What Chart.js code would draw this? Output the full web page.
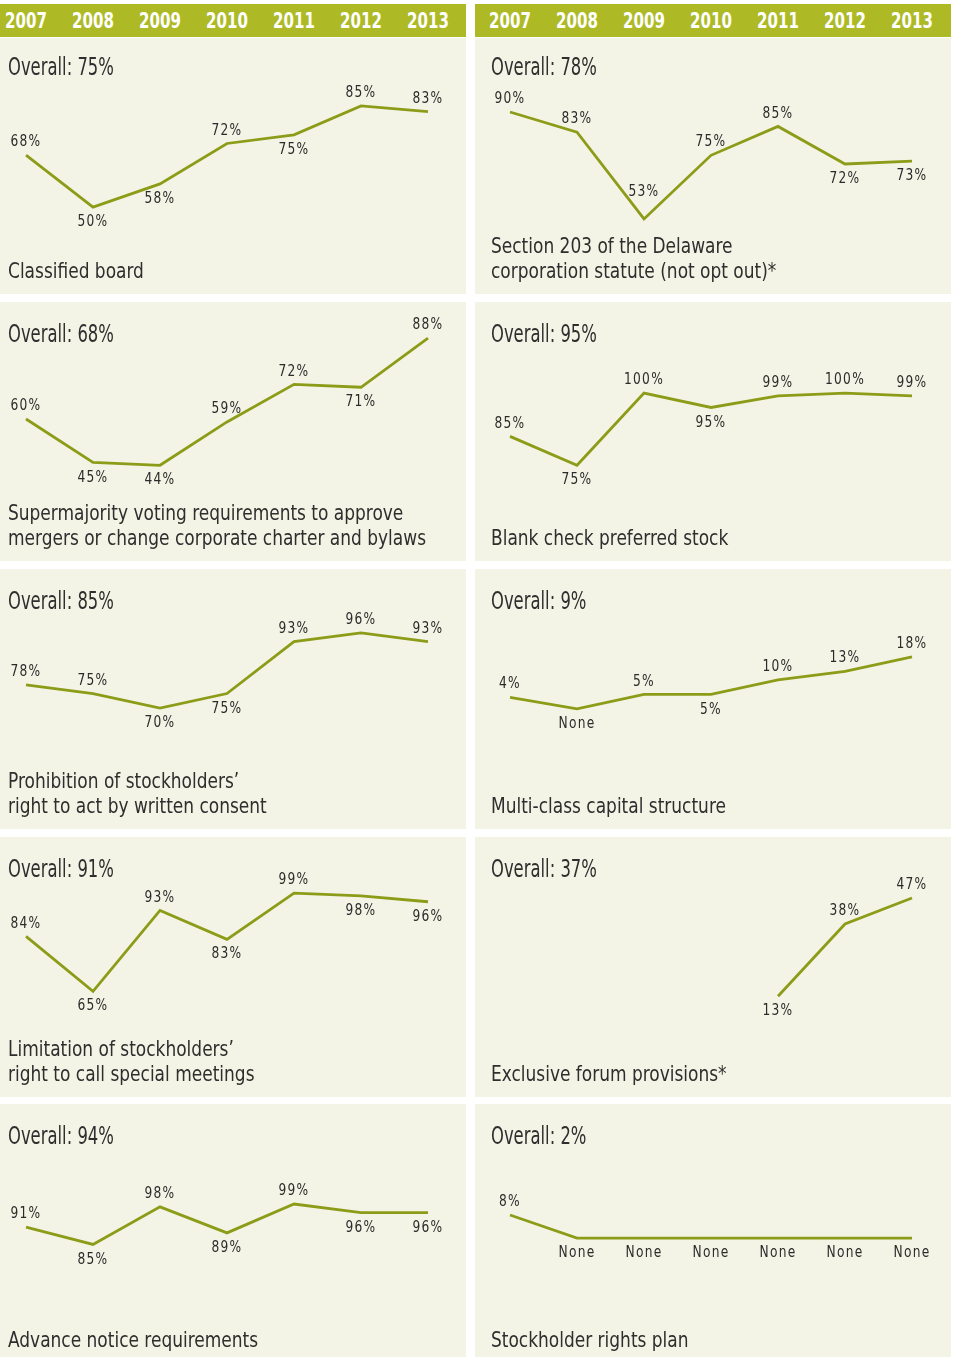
<!DOCTYPE html>
<html>
<head>
<meta charset="utf-8">
<script src="https://cdn.jsdelivr.net/npm/chart.js@4.4.1/dist/chart.umd.min.js"></script>
<style>
  html, body { margin: 0; padding: 0; background: #ffffff; }
  body { width: 953px; height: 1357px; position: relative; overflow: hidden;
         font-family: "Liberation Sans Narrow", "DejaVu Sans Condensed", "Roboto Condensed", Roboto, sans-serif;
         color: #2e2e2e; }
  .header { position: absolute; top: 4px; height: 33px; background: #adba25; }
  .header span { position: absolute; top: 4px; width: 60px; margin-left: -30px; text-align: center;
                 color: #fff; font-weight: bold; font-size: 22px; line-height: 26px;
                 transform: scaleX(0.76); }
  .panel { position: absolute; background: #f4f4e6; }
  .panel canvas { position: absolute; left: 0; top: 0; }
  .overall { position: absolute; font-size: 24px; line-height: 26px; white-space: nowrap;
             transform: scaleX(0.76); transform-origin: left center; }
  .desc { position: absolute; font-size: 21px; line-height: 25px; white-space: nowrap;
          transform: scaleX(0.9); transform-origin: left bottom; }
</style>
</head>
<body>
<script>
const years = ['2007', '2008', '2009', '2010', '2011', '2012', '2013'];

const classifiedBoard = [68, 50, 58, 72, 75, 85, 83];
const delaware203 = [90, 83, 53, 75, 85, 72, 73];
const supermajority = [60, 45, 44, 59, 72, 71, 88];
const blankCheck = [85, 75, 100, 95, 99, 100, 99];
const writtenConsent = [78, 75, 70, 75, 93, 96, 93];
const multiClass = [4, 0, 5, 5, 10, 13, 18];
const specialMeetings = [84, 65, 93, 83, 99, 98, 96];
const exclusiveForum = [null, null, null, null, 13, 38, 47];
const advanceNotice = [91, 85, 98, 89, 99, 96, 96];
const rightsPlan = [8, 0, 0, 0, 0, 0, 0];

const overallValues = [75, 78, 68, 95, 85, 9, 91, 37, 94, 2];
const descriptions = [
    ['Classified board'],
    ['Section 203 of the Delaware', 'corporation statute (not opt out)*'],
    ['Supermajority voting requirements to approve', 'mergers or change corporate charter and bylaws'],
    ['Blank check preferred stock'],
    ['Prohibition of stockholders\u2019', 'right to act by written consent'],
    ['Multi-class capital structure'],
    ['Limitation of stockholders\u2019', 'right to call special meetings'],
    ['Exclusive forum provisions*'],
    ['Advance notice requirements'],
    ['Stockholder rights plan']
];

// where each value label sits: a = above, A = far above, b = below
const labelSides = [
    ['a', 'b', 'b', 'a', 'b', 'a', 'a'],
    ['a', 'a', 'A', 'a', 'a', 'b', 'b'],
    ['a', 'b', 'b', 'a', 'a', 'b', 'a'],
    ['a', 'b', 'a', 'b', 'a', 'a', 'a'],
    ['a', 'a', 'b', 'b', 'a', 'a', 'a'],
    ['a', 'b', 'a', 'b', 'a', 'a', 'a'],
    ['a', 'b', 'a', 'b', 'a', 'b', 'b'],
    ['a', 'a', 'a', 'a', 'b', 'a', 'a'],
    ['a', 'b', 'a', 'b', 'a', 'b', 'b'],
    ['a', 'b', 'b', 'b', 'b', 'b', 'b']
];

const series = [classifiedBoard, delaware203, supermajority, blankCheck, writtenConsent,
                multiClass, specialMeetings, exclusiveForum, advanceNotice, rightsPlan];

// value shown at the top edge of each panel (all panels share the same px per %)
const scaleTops = [108.5, 115.6, 100.5, 131.5, 118.1, 48.4, 118.4, 68.1, 133.6, 46.4];
const pxPerPoint = 2.89;

const rowTops = [38, 302, 569, 837, 1104];
const rowBottoms = [294, 561, 829, 1097, 1357];
const colLefts = [0, 475];
const panelWidth = 466;
const padLeft = [26, 35];
const padRight = [38, 29];

const lineColor = '#8d9c18';
const textColor = '#2b2b2b';
const labelFont = '16px "Liberation Sans Narrow", "DejaVu Sans Condensed", Roboto, sans-serif';

// headers
colLefts.forEach((left, c) => {
    const h = document.createElement('div');
    h.className = 'header';
    h.style.left = left + 'px';
    h.style.width = (c === 0 ? panelWidth : 476) + 'px';
    const step = (panelWidth - padLeft[c] - padRight[c]) / (years.length - 1);
    years.forEach((y, i) => {
        const s = document.createElement('span');
        s.textContent = y;
        s.style.left = (padLeft[c] + step * i) + 'px';
        h.appendChild(s);
    });
    document.body.appendChild(h);
});

const valueLabels = {
    id: 'valueLabels',
    afterDatasetsDraw(chart, args, opts) {
        const ctx = chart.ctx;
        const meta = chart.getDatasetMeta(0);
        const data = chart.data.datasets[0].data;
        meta.data.forEach((pt, i) => {
            const v = data[i];
            if (v === null) return;
            const side = opts.sides[i];
            let dy = side === 'b' ? 15 : (side === 'A' ? -27 : -13);
            ctx.save();
            ctx.font = labelFont;
            ctx.fillStyle = textColor;
            ctx.textAlign = 'center';
            ctx.textBaseline = 'middle';
            ctx.letterSpacing = '1.5px';
            ctx.translate(pt.x, pt.y + dy);
            ctx.scale(0.85, 1);
            ctx.fillText(v === 0 ? 'None' : v + '%', 0, 0);
            ctx.restore();
        });
    }
};

series.forEach((values, p) => {
    const c = p % 2;
    const r = Math.floor(p / 2);
    const top = rowTops[r];
    const height = rowBottoms[r] - top;
    const width = c === 0 ? panelWidth : 476;

    const panel = document.createElement('div');
    panel.className = 'panel';
    panel.style.left = colLefts[c] + 'px';
    panel.style.top = top + 'px';
    panel.style.width = width + 'px';
    panel.style.height = height + 'px';

    const canvas = document.createElement('canvas');
    canvas.width = width;
    canvas.height = height;
    canvas.style.width = width + 'px';
    canvas.style.height = height + 'px';
    panel.appendChild(canvas);

    const textLeft = c === 0 ? 8 : 16;
    const ov = document.createElement('div');
    ov.className = 'overall';
    ov.style.left = textLeft + 'px';
    ov.style.top = (r === 0 ? 16 : 19) + 'px';
    ov.textContent = 'Overall: ' + overallValues[p] + '%';
    panel.appendChild(ov);

    const desc = document.createElement('div');
    desc.className = 'desc';
    desc.style.left = textLeft + 'px';
    desc.style.bottom = (r === 4 ? 4 : 10) + 'px';
    desc.innerHTML = descriptions[p].join('<br>');
    panel.appendChild(desc);

    document.body.appendChild(panel);

    const yMax = scaleTops[p];
    new Chart(canvas.getContext('2d'), {
        type: 'line',
        data: {
            labels: years,
            datasets: [{
                data: values,
                borderColor: lineColor,
                borderWidth: 2.8,
                pointRadius: 0,
                tension: 0,
                fill: false,
                spanGaps: false
            }]
        },
        options: {
            responsive: false,
            animation: false,
            layout: { padding: { left: padLeft[c], right: width - panelWidth + padRight[c], top: 0, bottom: 0 } },
            plugins: {
                legend: { display: false },
                tooltip: { enabled: false },
                valueLabels: { sides: labelSides[p] }
            },
            scales: {
                x: { display: false, offset: false },
                y: { display: false, min: yMax - height / pxPerPoint, max: yMax }
            }
        },
        plugins: [valueLabels]
    });
});
</script>
</body>
</html>
